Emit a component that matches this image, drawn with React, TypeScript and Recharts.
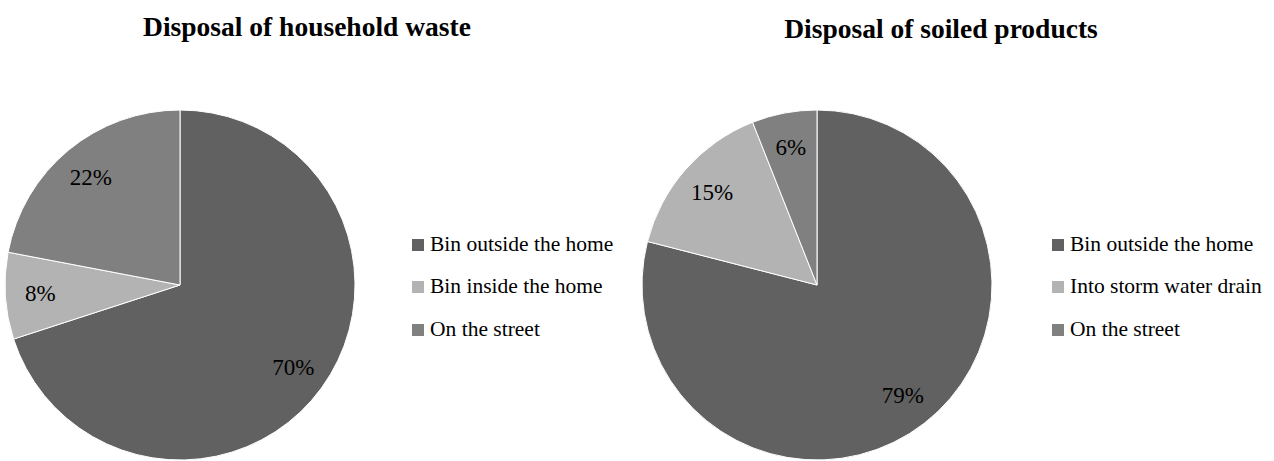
import React from "react";
import { PieChart, Pie, Cell, Legend } from "recharts";

const householdLabels = ["Bin outside the home", "Bin inside the home", "On the street"];
const householdValues = [70, 8, 22];

const soiledLabels = ["Bin outside the home", "Into storm water drain", "On the street"];
const soiledValues = [79, 15, 6];

const sliceColors = ["#616161", "#b3b3b3", "#808080"];

const SERIF = '"Liberation Serif", "Times New Roman", serif';
const RAD = Math.PI / 180;

function renderLabel(props: any) {
  const { cx, cy, midAngle, outerRadius, value } = props;
  const r = outerRadius * 0.8;
  const x = cx + r * Math.cos(-midAngle * RAD);
  const y = cy + r * Math.sin(-midAngle * RAD);
  return (
    <text
      x={x}
      y={y}
      textAnchor="middle"
      dominantBaseline="central"
      fill="#000"
      fontSize={23}
      style={{ fontFamily: SERIF }}
    >
      {value}%
    </text>
  );
}

function LegendList(props: any) {
  const { payload } = props;
  return (
    <div style={{ fontFamily: SERIF, fontSize: 21.5, color: "#000" }}>
      {(payload || []).map((p: any) => (
        <div key={p.value} style={{ height: 42.5, lineHeight: "42.5px", whiteSpace: "nowrap" }}>
          <span
            style={{
              display: "inline-block",
              width: 12,
              height: 12,
              background: p.color,
              marginRight: 6,
            }}
          />
          {p.value}
        </div>
      ))}
    </div>
  );
}

function DisposalPie({
  title,
  labels,
  values,
  titleCenter,
  titleTop,
  legendLeft,
}: {
  title: string;
  labels: string[];
  values: number[];
  titleCenter: number;
  titleTop: number;
  legendLeft: number;
}) {
  const data = labels.map((name, i) => ({ name, value: values[i] }));
  return (
    <div style={{ position: "relative", width: 637, height: 461, fontFamily: SERIF }}>
      <div
        style={{
          position: "absolute",
          left: titleCenter - 250,
          width: 500,
          top: titleTop,
          textAlign: "center",
          fontWeight: "bold",
          fontSize: 27.5,
          lineHeight: 1,
          whiteSpace: "nowrap",
        }}
      >
        {title}
      </div>
      <PieChart
        width={637}
        height={461}
        margin={{ top: 0, right: 0, bottom: 0, left: 0 }}
        style={{ position: "absolute", left: 0, top: 0 }}
      >
        <Pie
          data={data}
          dataKey="value"
          nameKey="name"
          cx={180}
          cy={285}
          outerRadius={175}
          startAngle={90}
          endAngle={-270}
          stroke="#ffffff"
          strokeWidth={1}
          label={renderLabel}
          labelLine={false}
          isAnimationActive={false}
        >
          {data.map((d, i) => (
            <Cell key={d.name} fill={sliceColors[i]} />
          ))}
        </Pie>
        <Legend
          layout="vertical"
          content={<LegendList />}
          itemSorter={(item: any) => labels.indexOf(item.value)}
          wrapperStyle={{ position: "absolute", left: legendLeft, top: 222.5, width: "auto" }}
        />
      </PieChart>
    </div>
  );
}

export default function App() {
  return (
    <div
      style={{
        position: "absolute",
        left: 0,
        top: 0,
        width: 1274,
        height: 461,
        background: "#fff",
        display: "flex",
        overflow: "hidden",
      }}
    >
      <DisposalPie
        title="Disposal of household waste"
        labels={householdLabels}
        values={householdValues}
        titleCenter={307}
        titleTop={13}
        legendLeft={412}
      />
      <DisposalPie
        title="Disposal of soiled products"
        labels={soiledLabels}
        values={soiledValues}
        titleCenter={304}
        titleTop={15}
        legendLeft={415}
      />
    </div>
  );
}
